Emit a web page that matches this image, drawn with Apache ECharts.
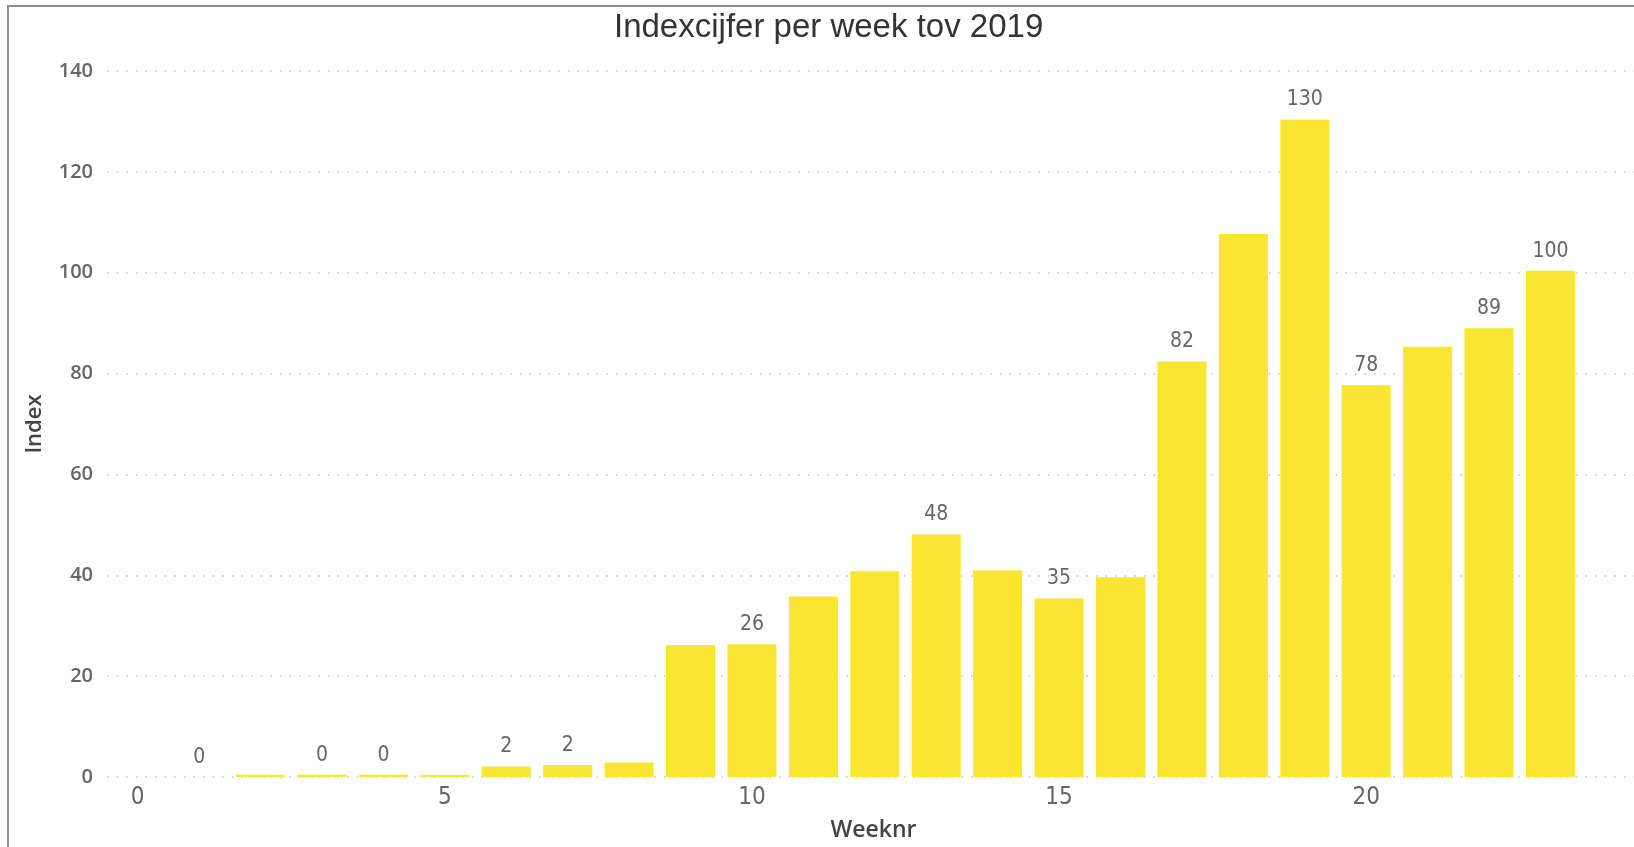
<!DOCTYPE html>
<html>
<head>
<meta charset="utf-8">
<script src="https://cdn.jsdelivr.net/npm/echarts@6/dist/echarts.min.js"></script>
<style>
html,body{margin:0;padding:0;background:#fff;}
#chart{width:1634px;height:847px;}
</style>
</head>
<body>
<div id="chart"></div>
<script>
// Data
const weeks = [1, 2, 3, 4, 5, 6, 7, 8, 9, 10, 11, 12, 13, 14, 15, 16, 17, 18, 19, 20, 21, 22, 23];
const indexValues = [0, 0.45, 0.45, 0.45, 0.4, 2.1, 2.4, 2.9, 26.2, 26.3, 35.8, 40.8, 48.1, 41.0, 35.4, 39.6, 82.4, 107.7, 130.4, 77.7, 85.3, 89.0, 100.4];
const labelledWeeks = [1, 3, 4, 6, 7, 10, 13, 15, 17, 19, 20, 22, 23];
const xTicks = [0, 5, 10, 15, 20];
const yTicks = [0, 20, 40, 60, 80, 100, 120, 140];
const titleText = 'Indexcijfer per week tov 2019';
const xName = 'Weeknr';
const yName = 'Index';

const narrowFont = "'Liberation Sans Narrow', 'DejaVu Sans Condensed', 'Liberation Sans', sans-serif";
const chart = echarts.init(document.getElementById('chart'), null, {renderer: 'canvas'});

const seriesData = weeks.map((w, i) => ({
  value: [w, indexValues[i]],
  label: {show: labelledWeeks.includes(w)}
}));

chart.setOption({
  animation: false,
  backgroundColor: '#ffffff',
  title: {
    text: titleText,
    left: 614,
    top: 11,
    padding: 0,
    textStyle: {
      fontFamily: "'Liberation Sans', Arial, sans-serif",
      fontSize: 33,
      fontWeight: 'normal',
      color: '#333333'
    }
  },
  graphic: [{
    type: 'rect',
    silent: true,
    shape: {x: 8, y: 6, width: 1800, height: 1000},
    style: {fill: 'none', stroke: '#8e8e8e', lineWidth: 2}
  }],
  grid: {left: 107, top: 71, right: 0, height: 707, containLabel: false},
  xAxis: {
    type: 'value',
    min: -0.5,
    max: 24.36,
    name: xName,
    nameLocation: 'middle',
    nameGap: 42,
    nameTextStyle: {
      fontFamily: "'Open Sans', 'Noto Sans', sans-serif",
      fontWeight: 600,
      fontSize: 23,
      color: '#444444',
      padding: [0, 0, 0, 6]
    },
    axisLine: {show: false},
    axisTick: {show: false},
    splitLine: {show: false},
    axisLabel: {
      customValues: xTicks,
      margin: 9,
      fontFamily: narrowFont,
      fontSize: 24,
      color: '#666666'
    }
  },
  yAxis: {
    type: 'value',
    min: yTicks[0],
    max: yTicks[yTicks.length - 1],
    interval: yTicks[1] - yTicks[0],
    name: yName,
    nameLocation: 'middle',
    nameGap: 61,
    nameTextStyle: {
      fontFamily: "'Open Sans', 'Noto Sans', sans-serif",
      fontWeight: 600,
      fontSize: 22,
      color: '#444444'
    },
    axisLine: {show: false},
    axisTick: {show: false},
    axisLabel: {
      margin: 14,
      fontFamily: "'Open Sans', 'Noto Sans', sans-serif",
      fontWeight: 600,
      fontSize: 20,
      color: '#666666'
    },
    splitLine: {
      show: true,
      lineStyle: {color: '#c4c4c4', width: 1.6, type: [1.6, 8]}
    }
  },
  series: [{
    type: 'bar',
    barWidth: 49,
    data: seriesData,
    itemStyle: {color: '#F8E632'},
    label: {
      position: 'top',
      distance: 9,
      fontFamily: narrowFont,
      fontSize: 21,
      color: '#666666',
      formatter: p => String(Math.round(p.value[1]))
    }
  }]
});
</script>
</body>
</html>
